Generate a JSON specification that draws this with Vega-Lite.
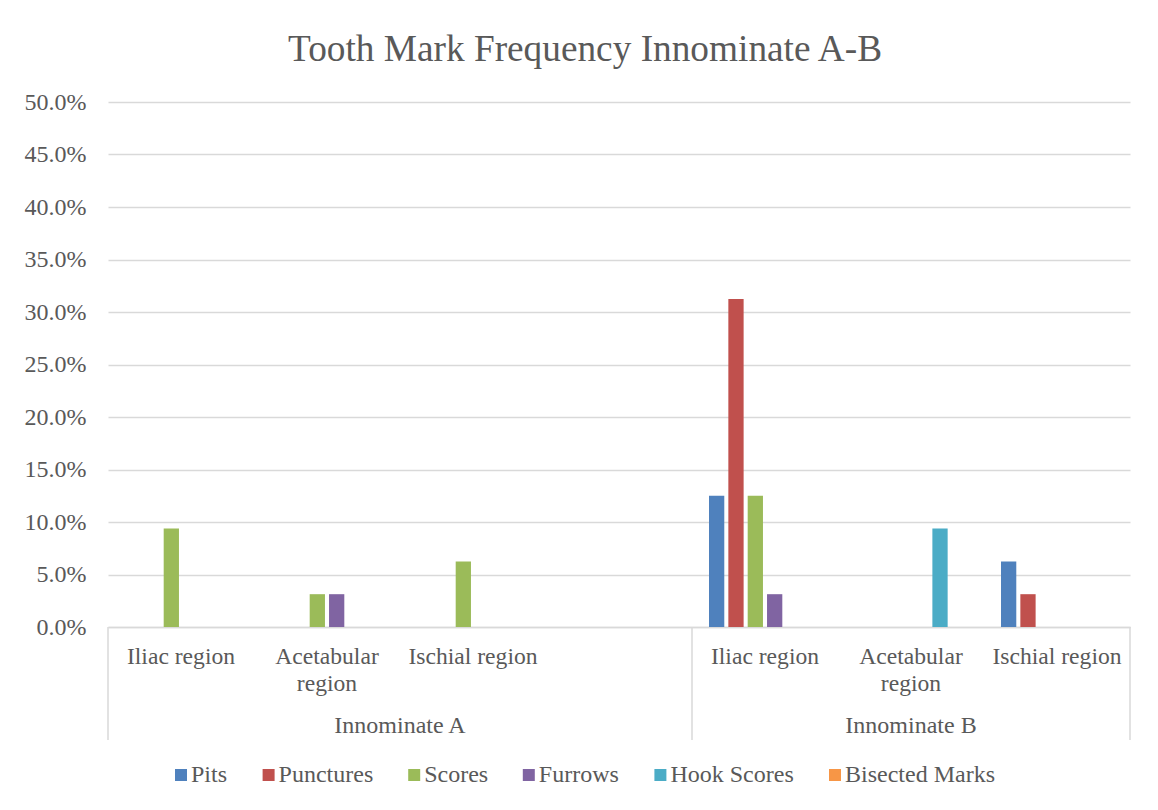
{
  "$schema": "https://vega.github.io/schema/vega-lite/v6.json",
  "width": 1022,
  "height": 525,
  "autosize": {"type": "none"},
  "padding": {"left": 108, "top": 102, "right": 28, "bottom": 183},
  "background": "white",
  "title": {
    "text": "Tooth Mark Frequency Innominate A-B",
    "font": "Liberation Serif",
    "fontSize": 37.3,
    "fontWeight": "normal",
    "color": "#595959",
    "anchor": "middle",
    "frame": "group",
    "dx": -34,
    "dy": 36,
    "baseline": "alphabetic",
    "offset": 28
  },
  "config": {"view": {"stroke": null}, "font": "Liberation Serif"},
  "data": {
    "values": [
      {"cat": "A|Iliac region", "innominate": "Innominate A", "region": "Iliac region", "type": "Scores", "value": 0.09375},
      {"cat": "A|Acetabular region", "innominate": "Innominate A", "region": "Acetabular region", "type": "Scores", "value": 0.03125},
      {"cat": "A|Acetabular region", "innominate": "Innominate A", "region": "Acetabular region", "type": "Furrows", "value": 0.03125},
      {"cat": "A|Ischial region", "innominate": "Innominate A", "region": "Ischial region", "type": "Scores", "value": 0.0625},
      {"cat": "B|Iliac region", "innominate": "Innominate B", "region": "Iliac region", "type": "Pits", "value": 0.125},
      {"cat": "B|Iliac region", "innominate": "Innominate B", "region": "Iliac region", "type": "Punctures", "value": 0.3125},
      {"cat": "B|Iliac region", "innominate": "Innominate B", "region": "Iliac region", "type": "Scores", "value": 0.125},
      {"cat": "B|Iliac region", "innominate": "Innominate B", "region": "Iliac region", "type": "Furrows", "value": 0.03125},
      {"cat": "B|Acetabular region", "innominate": "Innominate B", "region": "Acetabular region", "type": "Hook Scores", "value": 0.09375},
      {"cat": "B|Ischial region", "innominate": "Innominate B", "region": "Ischial region", "type": "Pits", "value": 0.0625},
      {"cat": "B|Ischial region", "innominate": "Innominate B", "region": "Ischial region", "type": "Punctures", "value": 0.03125}
    ]
  },
  "layer": [
    {
      "mark": {"type": "bar"},
      "encoding": {
        "x": {
          "field": "cat",
          "type": "nominal",
          "scale": {
            "domain": ["A|Iliac region", "A|Acetabular region", "A|Ischial region", "A|", "B|Iliac region", "B|Acetabular region", "B|Ischial region"],
            "paddingInner": 0,
            "paddingOuter": 0
          },
          "axis": {
            "title": null,
            "labelAngle": 0,
            "ticks": false,
            "grid": false,
            "domainColor": "#D9D9D9",
            "domainWidth": 1.5,
            "labelFont": "Liberation Serif",
            "labelFontSize": 23.6,
            "labelColor": "#595959",
            "labelPadding": 17,
            "labelLineHeight": 27,
            "labelLimit": 0,
            "labelBaseline": "top",
            "labelExpr": "indexof(datum.value, 'Acetabular') >= 0 ? ['Acetabular', 'region'] : substring(datum.value, 2)"
          }
        },
        "xOffset": {
          "field": "type",
          "type": "nominal",
          "scale": {
            "domain": ["Pits", "Punctures", "Scores", "Furrows", "Hook Scores", "Bisected Marks"],
            "paddingInner": 0.21,
            "paddingOuter": 0.879
          }
        },
        "y": {
          "field": "value",
          "type": "quantitative",
          "scale": {"domain": [0, 0.5], "nice": false},
          "axis": {
            "title": null,
            "values": [0, 0.05, 0.1, 0.15, 0.2, 0.25, 0.3, 0.35, 0.4, 0.45, 0.5],
            "format": ".1%",
            "ticks": false,
            "domain": false,
            "gridColor": "#D9D9D9",
            "gridWidth": 1.5,
            "labelFont": "Liberation Serif",
            "labelFontSize": 24,
            "labelColor": "#595959",
            "labelPadding": 22
          }
        },
        "color": {
          "field": "type",
          "type": "nominal",
          "scale": {
            "domain": ["Pits", "Punctures", "Scores", "Furrows", "Hook Scores", "Bisected Marks"],
            "range": ["#4F81BD", "#C0504D", "#9BBB59", "#8064A2", "#4BACC6", "#F79646"]
          },
          "legend": {
            "orient": "none",
            "legendX": 61,
            "legendY": 661,
            "direction": "horizontal",
            "title": null,
            "symbolType": "square",
            "symbolSize": 144,
            "symbolStrokeWidth": 0,
            "labelFont": "Liberation Serif",
            "labelFontSize": 24,
            "labelColor": "#595959",
            "labelOffset": -2,
            "columnPadding": 28.6,
            "labelLimit": 0
          }
        }
      }
    },
    {
      "data": {"values": [{"cat": "A|Iliac region"}, {"cat": "B|Iliac region"}]},
      "mark": {"type": "rule", "color": "#D9D9D9", "strokeWidth": 1.5},
      "encoding": {
        "x": {"field": "cat", "type": "nominal", "bandPosition": 0,
          "scale": {"domain": ["A|Iliac region", "A|Acetabular region", "A|Ischial region", "A|", "B|Iliac region", "B|Acetabular region", "B|Ischial region"], "paddingInner": 0, "paddingOuter": 0}},
        "y": {"datum": 0, "type": "quantitative", "scale": {"domain": [0, 0.5], "nice": false}},
        "y2": {"datum": -0.1076}
      }
    },
    {
      "data": {"values": [{"cat": "B|Ischial region"}]},
      "mark": {"type": "rule", "color": "#D9D9D9", "strokeWidth": 1.5},
      "encoding": {
        "x": {"field": "cat", "type": "nominal", "bandPosition": 1,
          "scale": {"domain": ["A|Iliac region", "A|Acetabular region", "A|Ischial region", "A|", "B|Iliac region", "B|Acetabular region", "B|Ischial region"], "paddingInner": 0, "paddingOuter": 0}},
        "y": {"datum": 0, "type": "quantitative", "scale": {"domain": [0, 0.5], "nice": false}},
        "y2": {"datum": -0.1076}
      }
    },
    {
      "data": {"values": [{"cat": "A|Ischial region", "innominate": "Innominate A"}]},
      "mark": {"type": "text", "font": "Liberation Serif", "fontSize": 24, "color": "#595959", "align": "center", "baseline": "alphabetic"},
      "encoding": {
        "x": {"field": "cat", "type": "nominal", "bandPosition": 0,
          "scale": {"domain": ["A|Iliac region", "A|Acetabular region", "A|Ischial region", "A|", "B|Iliac region", "B|Acetabular region", "B|Ischial region"], "paddingInner": 0, "paddingOuter": 0}},
        "y": {"datum": -0.101, "type": "quantitative", "scale": {"domain": [0, 0.5], "nice": false}},
        "text": {"field": "innominate", "type": "nominal"}
      }
    },
    {
      "data": {"values": [{"cat": "B|Acetabular region", "innominate": "Innominate B"}]},
      "mark": {"type": "text", "font": "Liberation Serif", "fontSize": 24, "color": "#595959", "align": "center", "baseline": "alphabetic"},
      "encoding": {
        "x": {"field": "cat", "type": "nominal", "bandPosition": 0.5,
          "scale": {"domain": ["A|Iliac region", "A|Acetabular region", "A|Ischial region", "A|", "B|Iliac region", "B|Acetabular region", "B|Ischial region"], "paddingInner": 0, "paddingOuter": 0}},
        "y": {"datum": -0.101, "type": "quantitative", "scale": {"domain": [0, 0.5], "nice": false}},
        "text": {"field": "innominate", "type": "nominal"}
      }
    }
  ]
}
